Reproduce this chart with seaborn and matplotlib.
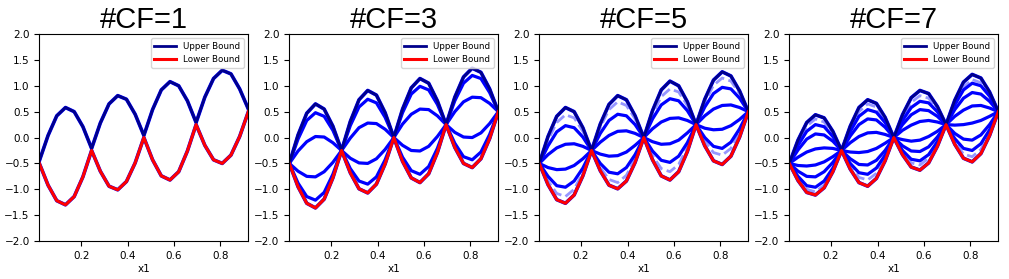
import numpy as np
import matplotlib
matplotlib.use("Agg")
import matplotlib.pyplot as plt
import seaborn as sns

# shared x grid (curves run from ~0.02 to ~0.92)
x1 = [0.0200, 0.0575, 0.0950, 0.1325, 0.1700, 0.2075, 0.2450, 0.2825, 0.3200,
      0.3575, 0.3950, 0.4325, 0.4700, 0.5075, 0.5450, 0.5825, 0.6200, 0.6575,
      0.6950, 0.7325, 0.7700, 0.8075, 0.8450, 0.8825, 0.9200]

# #CF=1
cf1_upper = [-0.45, 0.04, 0.42, 0.58, 0.50, 0.21, -0.21, 0.28, 0.65, 0.81, 0.74, 0.45, 0.04,
             0.54, 0.92, 1.08, 1.00, 0.71, 0.29, 0.78, 1.14, 1.30, 1.23, 0.94, 0.55]
cf1_lower = [-0.50, -0.92, -1.22, -1.30, -1.14, -0.76, -0.25, -0.65, -0.94, -1.01, -0.85, -0.49, 0.00,
             -0.43, -0.74, -0.82, -0.66, -0.26, 0.25, -0.15, -0.43, -0.50, -0.34, 0.02, 0.50]

# #CF=3
cf3_upper = [-0.50, 0.05, 0.47, 0.65, 0.55, 0.22, -0.25, 0.31, 0.73, 0.91, 0.82, 0.48, 0.00,
             0.55, 0.96, 1.14, 1.05, 0.71, 0.25, 0.78, 1.17, 1.34, 1.26, 0.94, 0.50]
cf3_lower = [-0.50, -0.95, -1.27, -1.36, -1.19, -0.78, -0.25, -0.68, -0.99, -1.07, -0.90, -0.51, 0.00,
             -0.46, -0.78, -0.87, -0.70, -0.29, 0.25, -0.19, -0.50, -0.58, -0.41, -0.02, 0.50]
cf3_mid = [
    [-0.50, -0.03, 0.33, 0.48, 0.41, 0.14, -0.25, 0.23, 0.59, 0.74, 0.67, 0.39, 0.00,
     0.48, 0.84, 0.99, 0.92, 0.64, 0.25, 0.71, 1.05, 1.20, 1.14, 0.87, 0.50],
    [-0.50, -0.26, -0.08, 0.02, 0.01, -0.10, -0.25, -0.01, 0.19, 0.28, 0.27, 0.16, 0.00,
     0.26, 0.45, 0.55, 0.54, 0.42, 0.25, 0.50, 0.69, 0.78, 0.77, 0.66, 0.50],
    [-0.50, -0.65, -0.75, -0.76, -0.66, -0.48, -0.25, -0.40, -0.49, -0.50, -0.41, -0.23, 0.00,
     -0.15, -0.25, -0.26, -0.17, 0.02, 0.25, 0.10, 0.01, 0.00, 0.09, 0.27, 0.50],
    [-0.50, -0.88, -1.14, -1.21, -1.06, -0.71, -0.25, -0.60, -0.84, -0.90, -0.76, -0.43, 0.00,
     -0.38, -0.64, -0.71, -0.56, -0.21, 0.25, -0.11, -0.37, -0.43, -0.28, 0.06, 0.50],
]

# #CF=5
cf5_upper = [-0.50, 0.02, 0.41, 0.58, 0.50, 0.19, -0.25, 0.26, 0.64, 0.81, 0.73, 0.42, 0.00,
             0.52, 0.92, 1.09, 1.00, 0.69, 0.25, 0.74, 1.11, 1.27, 1.19, 0.90, 0.50]
cf5_lower = [-0.50, -0.91, -1.20, -1.27, -1.11, -0.74, -0.25, -0.64, -0.92, -0.99, -0.84, -0.48, 0.00,
             -0.43, -0.74, -0.82, -0.66, -0.27, 0.25, -0.16, -0.45, -0.52, -0.36, 0.01, 0.50]
cf5_mid = [
    [-0.50, -0.16, 0.11, 0.23, 0.19, 0.01, -0.25, 0.08, 0.33, 0.45, 0.42, 0.25, 0.00,
     0.36, 0.63, 0.75, 0.71, 0.52, 0.25, 0.59, 0.85, 0.97, 0.94, 0.76, 0.50],
    [-0.50, -0.33, -0.20, -0.13, -0.12, -0.17, -0.25, -0.09, 0.04, 0.12, 0.13, 0.08, 0.00,
     0.17, 0.30, 0.37, 0.38, 0.33, 0.25, 0.42, 0.55, 0.62, 0.63, 0.58, 0.50],
    [-0.50, -0.58, -0.62, -0.61, -0.54, -0.41, -0.25, -0.32, -0.36, -0.35, -0.28, -0.15, 0.00,
     -0.08, -0.13, -0.12, -0.05, 0.09, 0.25, 0.18, 0.15, 0.16, 0.23, 0.35, 0.50],
    [-0.50, -0.75, -0.93, -0.96, -0.84, -0.59, -0.25, -0.50, -0.67, -0.70, -0.58, -0.33, 0.00,
     -0.26, -0.44, -0.48, -0.36, -0.10, 0.25, 0.00, -0.17, -0.21, -0.09, 0.17, 0.50],
]
cf5_faded = [
    [-0.50, -0.05, 0.29, 0.44, 0.38, 0.12, -0.25, 0.20, 0.54, 0.69, 0.62, 0.36, 0.00,
     0.45, 0.79, 0.94, 0.88, 0.62, 0.25, 0.68, 1.01, 1.15, 1.09, 0.85, 0.50],
    [-0.50, -0.84, -1.08, -1.14, -1.00, -0.68, -0.25, -0.58, -0.81, -0.87, -0.73, -0.41, 0.00,
     -0.35, -0.60, -0.66, -0.52, -0.19, 0.25, -0.07, -0.29, -0.34, -0.21, 0.10, 0.50],
]

# #CF=7
cf7_upper = [-0.50, -0.05, 0.29, 0.44, 0.38, 0.12, -0.25, 0.22, 0.58, 0.73, 0.66, 0.39, 0.00,
             0.44, 0.77, 0.91, 0.85, 0.60, 0.25, 0.72, 1.07, 1.22, 1.15, 0.88, 0.50]
cf7_lower = [-0.50, -0.83, -1.06, -1.11, -0.97, -0.66, -0.25, -0.61, -0.87, -0.94, -0.79, -0.45, 0.00,
             -0.33, -0.57, -0.63, -0.49, -0.17, 0.25, -0.13, -0.40, -0.47, -0.31, 0.04, 0.50]
cf7_mid = [
    [-0.50, -0.15, 0.12, 0.25, 0.21, 0.02, -0.25, 0.12, 0.41, 0.54, 0.49, 0.29, 0.00,
     0.33, 0.58, 0.70, 0.67, 0.50, 0.25, 0.63, 0.92, 1.05, 1.00, 0.80, 0.50],
    [-0.50, -0.24, -0.03, 0.07, 0.05, -0.07, -0.25, 0.03, 0.25, 0.36, 0.34, 0.20, 0.00,
     0.25, 0.44, 0.54, 0.52, 0.41, 0.25, 0.54, 0.76, 0.87, 0.84, 0.70, 0.50],
    [-0.50, -0.38, -0.28, -0.22, -0.20, -0.21, -0.25, -0.10, 0.02, 0.09, 0.10, 0.06, 0.00,
     0.14, 0.24, 0.31, 0.33, 0.30, 0.25, 0.41, 0.53, 0.61, 0.62, 0.57, 0.50],
    [-0.50, -0.54, -0.55, -0.53, -0.47, -0.37, -0.25, -0.28, -0.29, -0.27, -0.21, -0.11, 0.00,
     -0.04, -0.07, -0.05, 0.02, 0.12, 0.25, 0.24, 0.25, 0.28, 0.33, 0.41, 0.50],
    [-0.50, -0.65, -0.75, -0.76, -0.66, -0.48, -0.25, -0.41, -0.52, -0.53, -0.44, -0.25, 0.00,
     -0.16, -0.26, -0.27, -0.18, 0.01, 0.25, 0.08, -0.03, -0.05, 0.05, 0.25, 0.50],
    [-0.50, -0.75, -0.93, -0.96, -0.84, -0.59, -0.25, -0.50, -0.68, -0.71, -0.59, -0.34, 0.00,
     -0.25, -0.42, -0.45, -0.33, -0.08, 0.25, -0.02, -0.21, -0.25, -0.12, 0.15, 0.50],
]
cf7_faded = [
    [-0.50, -0.09, 0.22, 0.36, 0.30, 0.07, -0.25, 0.18, 0.50, 0.65, 0.59, 0.34, 0.00,
     0.39, 0.68, 0.81, 0.76, 0.55, 0.25, 0.66, 0.98, 1.12, 1.06, 0.83, 0.50],
    [-0.50, -0.79, -1.00, -1.05, -0.92, -0.63, -0.25, -0.56, -0.77, -0.82, -0.69, -0.39, 0.00,
     -0.29, -0.49, -0.53, -0.40, -0.12, 0.25, -0.08, -0.32, -0.37, -0.23, 0.09, 0.50],
]

panels = [
    ("#CF=1", cf1_upper, cf1_lower, [], []),
    ("#CF=3", cf3_upper, cf3_lower, cf3_mid, []),
    ("#CF=5", cf5_upper, cf5_lower, cf5_mid, cf5_faded),
    ("#CF=7", cf7_upper, cf7_lower, cf7_mid, cf7_faded),
]

fig, axes = plt.subplots(1, 4, figsize=(10.09, 2.79), dpi=100)
plt.subplots_adjust(left=0.039, right=0.9894, bottom=0.136, top=0.878, wspace=0.196)

for ax, (title, upper, lower, mids, faded) in zip(axes, panels):
    # bounds also drawn in blue underneath, like the samples
    for ys in [upper, lower]:
        sns.lineplot(x=x1, y=ys, ax=ax, color="blue", lw=2.6, estimator=None)
    for ys in faded:
        sns.lineplot(x=x1, y=ys, ax=ax, color="#6a6aff", lw=2.0, alpha=0.7,
                     linestyle="--", estimator=None)
    for ys in mids:
        sns.lineplot(x=x1, y=ys, ax=ax, color="blue", lw=2.3, estimator=None)
    sns.lineplot(x=x1, y=upper, ax=ax, color="#00008b", lw=2.0, label="Upper Bound", estimator=None)
    sns.lineplot(x=x1, y=lower, ax=ax, color="red", lw=2.2, label="Lower Bound", estimator=None)

    ax.set_xlim(0.02, 0.92)
    ax.set_ylim(-2, 2)
    ax.set_xticks([0.2, 0.4, 0.6, 0.8])
    ax.set_yticks(np.arange(-2.0, 2.01, 0.5))
    ax.tick_params(labelsize=7.5)
    ax.set_xlabel("x1", fontsize=7.5, labelpad=2)
    ax.set_ylabel("")
    ax.set_title(title, fontsize=21, family="Liberation Sans", pad=4)
    ax.legend(loc="upper right", fontsize=6.3, handlelength=2.5)

fig.savefig("out.png", dpi=100)
